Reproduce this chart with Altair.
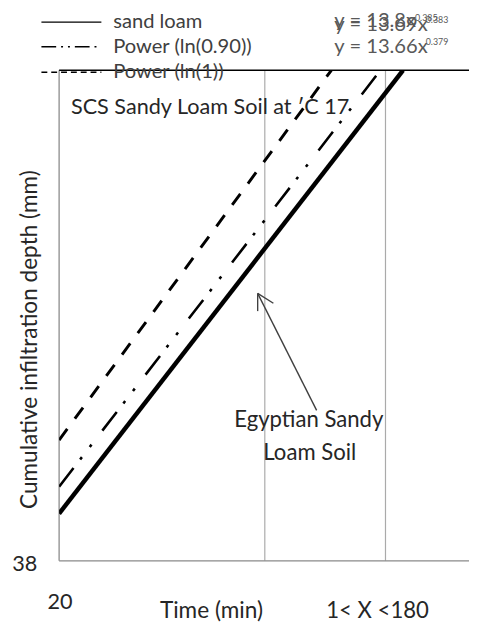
import altair as alt
import pandas as pd

# ---- data (log-log axes) ----
series = ["sand loam", "Power (ln(0.90))", "Power (ln(1))"]
x_start = [20, 20, 20]
y_start = [42.5, 45.3, 50.6]
x_end = [325, 270.6, 181.8]
y_end = [121.6, 121.6, 121.6]
grid_x = [106, 282]
x_domain = [20, 555]
y_domain = [38, 121.6]

rows = []
for s, xa, ya, xb, yb in zip(series, x_start, y_start, x_end, y_end):
    rows.append({"series": s, "x": xa, "y": ya, "o": 0})
    rows.append({"series": s, "x": xb, "y": yb, "o": 1})
df = pd.DataFrame(rows)
grid_df = pd.DataFrame({"x": grid_x})

W, H = 417, 499
FONT = "Lato"

xs = alt.Scale(type="log", domain=x_domain)
ys = alt.Scale(type="log", domain=y_domain)
X = alt.X("x:Q", scale=xs, axis=None)
Y = alt.Y("y:Q", scale=ys, axis=None)

base = alt.Chart(df)


def series_line(name, **kw):
    return base.transform_filter(alt.datum.series == name).mark_line(
        clip=True, color="black", **kw
    ).encode(X, Y, order="o:Q")


solid = series_line(series[0], strokeWidth=4.5)
dashdot = series_line(series[1], strokeWidth=2.6, strokeDash=[24, 11, 3, 13, 3, 18])
dashed = series_line(series[2], strokeWidth=3, strokeDash=[14, 13])

grid = alt.Chart(grid_df).mark_rule(color="#aaaaaa", strokeWidth=1.2).encode(
    x=alt.X("x:Q", scale=xs, axis=None), y=alt.value(0), y2=alt.value(H)
)

one = pd.DataFrame({"a": [0]})


def rule(x1, x2, y1, y2, color="black", width=1.5, dash=None):
    kw = dict(color=color, strokeWidth=width)
    if dash:
        kw["strokeDash"] = dash
    return alt.Chart(one).mark_rule(**kw).encode(
        x=alt.value(x1), x2=alt.value(x2), y=alt.value(y1), y2=alt.value(y2)
    )


def label(t, x, y, size=20, color="#262626", align="center", angle=None):
    kw = dict(font=FONT, fontSize=size, color=color, align=align, baseline="middle")
    if angle is not None:
        kw["angle"] = angle
    return alt.Chart(pd.DataFrame({"t": [t]})).mark_text(**kw).encode(
        text="t:N", x=alt.value(x), y=alt.value(y)
    )


frame = [
    rule(0, W, H, H, color="#8a8a8a", width=1.3),
    rule(0, 0, 0, H, color="#8a8a8a", width=1.3),
    rule(0, W, 0, 0, color="black", width=1.6),
]

legend = [
    rule(-18, 43, -49, -49, width=1.5),
    rule(-18, 43, -24, -24, width=1.5, dash=[15, 5, 2, 5, 2, 5]),
    rule(-18, 43, 2, 2, width=1.5, dash=[6, 4]),
    label(series[0], 55, -49, size=20.5, color="#404040", align="left"),
    label(series[1], 55, -24, size=20.5, color="#404040", align="left"),
    label(series[2], 55, 2, size=20.5, color="#404040", align="left"),
]

eqs = [
    label("y = 13.8x", 280, -50, size=20.5, color="#595959", align="left"),
    label("0.385", 362, -53, size=9, color="#595959", align="left"),
    label("y = 13.69x", 280, -46, size=20.5, color="#595959", align="left"),
    label("0.383", 373, -51, size=9, color="#595959", align="left"),
    label("y = 13.66x", 280, -24, size=20.5, color="#595959", align="left"),
    label("0.379", 373, -29, size=9, color="#595959", align="left"),
]

texts = [
    label("SCS Sandy Loam Soil at \u2032C 17", 12, 37, size=22, align="left"),
    label("Cumulative infiltration depth (mm)", -29, 274, size=23, angle=270),
    label("38", -35, 502, size=22),
    label("20", 1, 541, size=22),
    label("Time (min)", 155, 550, size=23),
    label("1< X <180", 324, 550, size=22.5),
    label("Egyptian Sandy", 254, 356, size=22.5),
    label("Loam Soil", 255, 389, size=22.5),
]

arrow = [
    rule(262, 202, 346, 227, color="#404040", width=1.4),
    rule(202, 202, 227, 245, color="#404040", width=1.4),
    rule(202, 218, 227, 237, color="#404040", width=1.4),
]

chart = alt.layer(
    grid, *frame, dashed, dashdot, solid, *legend, *eqs, *texts, *arrow
).properties(
    width=W,
    height=H,
    autosize=alt.AutoSizeParams(type="none"),
    padding={"left": 52, "top": 58, "right": 0, "bottom": 62},
).configure_view(stroke=None)

chart.save("out.html", embed_options={"renderer": "svg", "actions": False})
